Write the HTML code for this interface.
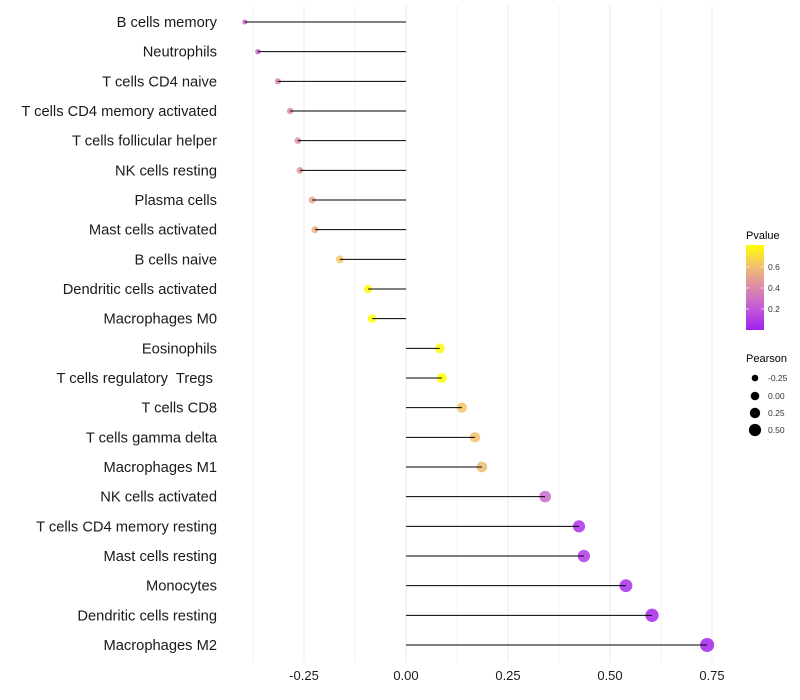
<!DOCTYPE html>
<html><head><meta charset="utf-8"><style>
body{margin:0;background:#fff;}
svg{display:block;font-family:"Liberation Sans",sans-serif;}
#labels text{white-space:pre;}
</style></head><body>
<svg id="chart" width="800" height="700">
<defs><linearGradient id="pgrad" x1="0" y1="1" x2="0" y2="0">
<stop offset="0" stop-color="#a020f0"/><stop offset="0.25" stop-color="#c258d8"/><stop offset="0.5" stop-color="#dc8aa8"/><stop offset="0.75" stop-color="#f2c070"/><stop offset="1" stop-color="#ffff00"/>
</linearGradient></defs>
<g id="grid"></g><g id="marks"></g><g id="labels"></g><g id="xaxis"></g>
<g>
<text x="746" y="239" font-size="11">Pvalue</text>
<rect x="746" y="245" width="18" height="85" fill="url(#pgrad)"/>
<g fill="#333" font-size="8.5">
<text x="768" y="270">0.6</text><text x="768" y="291">0.4</text><text x="768" y="312">0.2</text></g>
<g stroke="#fff" stroke-width="1" opacity="0.7">
<line x1="746" y1="267" x2="749" y2="267"/><line x1="761" y1="267" x2="764" y2="267"/>
<line x1="746" y1="288" x2="749" y2="288"/><line x1="761" y1="288" x2="764" y2="288"/>
<line x1="746" y1="309" x2="749" y2="309"/><line x1="761" y1="309" x2="764" y2="309"/></g>
</g>
<g>
<text x="746" y="362" font-size="11">Pearson</text>
<circle cx="755" cy="378" r="3.3"/><circle cx="755" cy="396" r="4.3"/><circle cx="755" cy="413" r="5.2"/><circle cx="755" cy="430" r="6.1"/>
<g fill="#333" font-size="8.5"><text x="768" y="381">-0.25</text><text x="768" y="399">0.00</text><text x="768" y="416">0.25</text><text x="768" y="433">0.50</text></g>
</g>
</svg>
<script>
const categories=["B cells memory","Neutrophils","T cells CD4 naive","T cells CD4 memory activated","T cells follicular helper","NK cells resting","Plasma cells","Mast cells activated","B cells naive","Dendritic cells activated","Macrophages M0","Eosinophils","T cells regulatory  Tregs ","T cells CD8","T cells gamma delta","Macrophages M1","NK cells activated","T cells CD4 memory resting","Mast cells resting","Monocytes","Dendritic cells resting","Macrophages M2"];
const pearson=[-0.395,-0.363,-0.314,-0.284,-0.265,-0.260,-0.230,-0.223,-0.162,-0.093,-0.083,0.083,0.088,0.137,0.169,0.186,0.341,0.424,0.436,0.539,0.603,0.738];
const pvalue=[0.22,0.27,0.36,0.40,0.42,0.44,0.52,0.54,0.62,0.78,0.80,0.78,0.80,0.62,0.60,0.58,0.26,0.06,0.09,0.05,0.03,0.02];
const xTicks=[-0.25,0,0.25,0.5,0.75];
const xTickLabels=["-0.25","0.00","0.25","0.50","0.75"];
const NS="http://www.w3.org/2000/svg";
const xS=v=>406+v*408;
const yS=i=>22+i*(623/(categories.length-1));
const rS=v=>Math.sqrt(Math.max(2.5,7.5+38*(v+0.363)));
const stops=[[0,[160,32,240]],[0.2,[194,88,216]],[0.4,[220,138,168]],[0.6,[242,192,112]],[0.8,[255,255,0]]];
function col(p){p=Math.max(0,Math.min(0.8,p));for(let k=0;k<stops.length-1;k++){const a=stops[k],b=stops[k+1];if(p<=b[0]){const t=(p-a[0])/(b[0]-a[0]);const c=a[1].map((v,j)=>Math.round(v+(b[1][j]-v)*t));return`rgb(${c})`;}}return"rgb(255,255,0)";}
function mk(t,at,parent){const e=document.createElementNS(NS,t);for(const k in at)e.setAttribute(k,at[k]);parent.appendChild(e);return e;}
const grid=document.getElementById('grid'),marks=document.getElementById('marks'),labels=document.getElementById('labels'),xaxis=document.getElementById('xaxis');
for(let g=-0.375;g<=0.76;g+=0.125){const l=mk('line',{x1:xS(g),x2:xS(g),y1:5,y2:662,stroke:'#ebebeb','stroke-width':Math.abs(g*4-Math.round(g*4))<1e-6?1:0.6},grid);

}
categories.forEach((c,i)=>{const y=yS(i);
const cir=mk('circle',{cx:xS(pearson[i]),cy:y,r:rS(pearson[i]),fill:col(pvalue[i]),'fill-opacity':0.85},marks);


const ln=mk('line',{x1:xS(0),x2:xS(pearson[i]),y1:y,y2:y,stroke:'#000','stroke-width':1},marks);


const t=mk('text',{x:217,y:y+5,'text-anchor':'end','font-size':14.7,fill:'#1a1a1a'},labels);t.textContent=c;

});
xTicks.forEach((v,i)=>{const t=mk('text',{x:xS(v),y:680,'text-anchor':'middle','font-size':13,fill:'#1a1a1a'},xaxis);t.textContent=xTickLabels[i];

});
</script>
</body></html>
